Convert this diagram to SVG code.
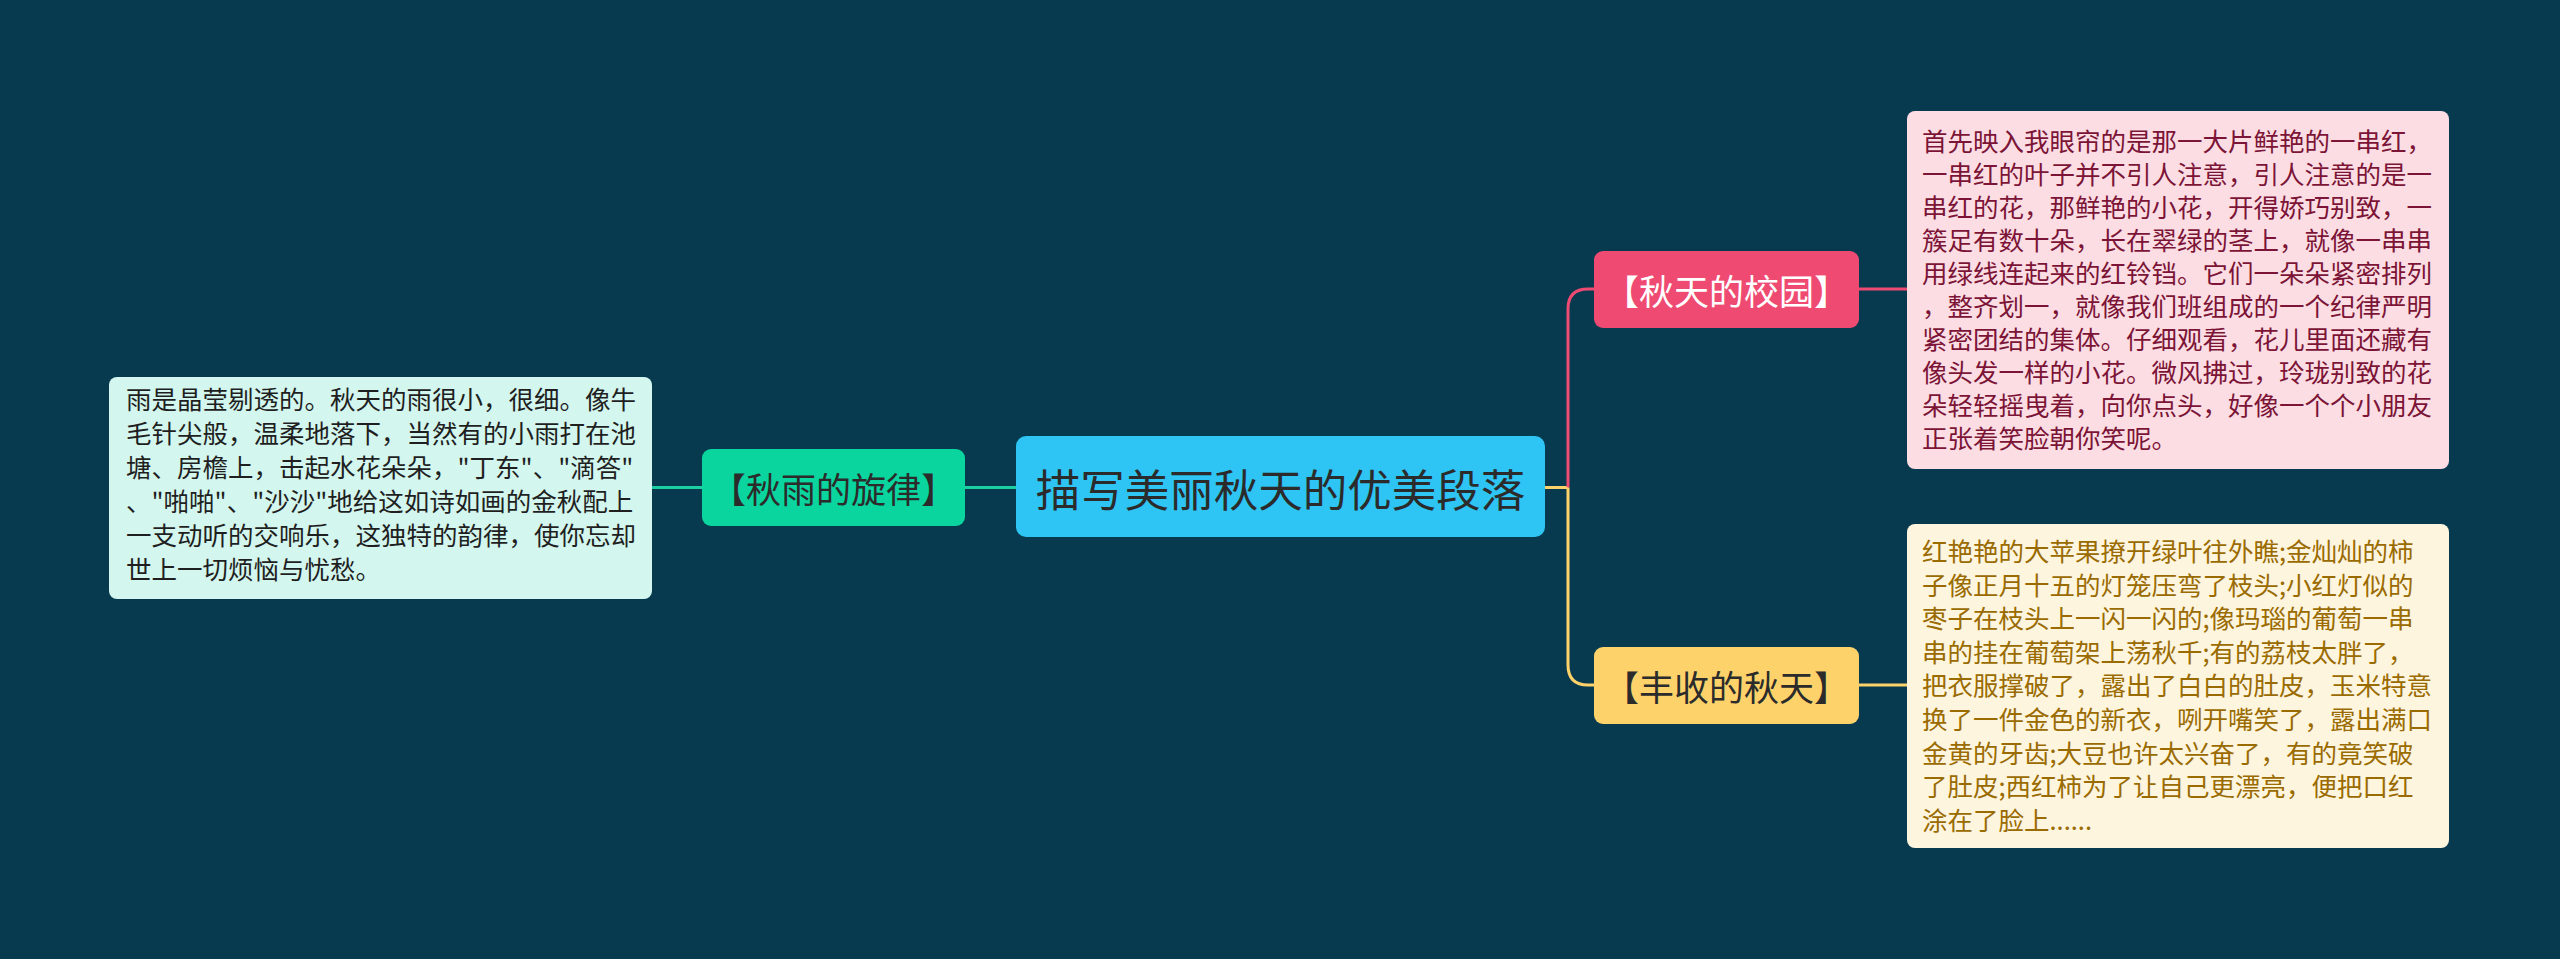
<svg xmlns="http://www.w3.org/2000/svg" width="2560" height="959" viewBox="0 0 2560 959">
<style>
text{font-family:"Noto Sans CJK SC","Noto Sans",sans-serif;}
.lbl{text-anchor:middle;dominant-baseline:central;}
.body{font-size:25.5px;}
.conn{fill:none;stroke-width:3;}
</style>
<rect x="0" y="0" width="2560" height="959" fill="#073A4E"/>
<g id="connectors">
<path class="conn" stroke="#1CCFA3" d="M1016 487.5 H965"/>
<path class="conn" stroke="#1CCFA3" d="M702 487.5 H652"/>
<path class="conn" stroke="#FDD26A" d="M1545 487.5 H1568"/>
<path class="conn" stroke="#EF4A72" d="M1568 487.5 V309 Q1568 289 1588 289 H1594"/>
<path class="conn" stroke="#FDD26A" d="M1568 487.5 V665 Q1568 685 1588 685 H1594"/>
<path class="conn" stroke="#EF4A72" d="M1859 289 H1907"/>
<path class="conn" stroke="#FDD26A" d="M1859 685 H1907"/>
</g>
<g id="center">
<rect x="1016" y="436" width="529" height="101" rx="10" fill="#2EC4F3"/>
<text class="lbl" x="1280.5" y="487" font-size="44.5" fill="#2B2B2B">描写美丽秋天的优美段落</text>
</g>
<g id="node-rain">
<rect x="702" y="449" width="263" height="77" rx="9" fill="#0AD59E"/>
<text class="lbl" x="833.5" y="487.5" font-size="35" fill="#2B2B2B">【秋雨的旋律】</text>
</g>
<g id="box-rain">
<rect x="109" y="377" width="543" height="222" rx="8" fill="#D3F6EE"/>
<text class="body" fill="#1F1F1F">
<tspan x="126" y="409">雨是晶莹剔透的。秋天的雨很小，很细。像牛</tspan>
<tspan x="126" y="443">毛针尖般，温柔地落下，当然有的小雨打在池</tspan>
<tspan x="126" y="477">塘、房檐上，击起水花朵朵，"丁东"、"滴答"</tspan>
<tspan x="126" y="511">、"啪啪"、"沙沙"地给这如诗如画的金秋配上</tspan>
<tspan x="126" y="545">一支动听的交响乐，这独特的韵律，使你忘却</tspan>
<tspan x="126" y="579">世上一切烦恼与忧愁。</tspan>
</text>
</g>
<g id="node-campus">
<rect x="1594" y="251" width="265" height="77" rx="9" fill="#EF4A72"/>
<text class="lbl" x="1726.5" y="289.5" font-size="35" fill="#FFFFFF">【秋天的校园】</text>
</g>
<g id="box-campus">
<rect x="1907" y="111" width="542" height="358" rx="8" fill="#FCDDE4"/>
<text class="body" fill="#7B1436">
<tspan x="1922" y="151">首先映入我眼帘的是那一大片鲜艳的一串红，</tspan>
<tspan x="1922" y="184">一串红的叶子并不引人注意，引人注意的是一</tspan>
<tspan x="1922" y="217">串红的花，那鲜艳的小花，开得娇巧别致，一</tspan>
<tspan x="1922" y="250">簇足有数十朵，长在翠绿的茎上，就像一串串</tspan>
<tspan x="1922" y="283">用绿线连起来的红铃铛。它们一朵朵紧密排列</tspan>
<tspan x="1922" y="316">，整齐划一，就像我们班组成的一个纪律严明</tspan>
<tspan x="1922" y="349">紧密团结的集体。仔细观看，花儿里面还藏有</tspan>
<tspan x="1922" y="382">像头发一样的小花。微风拂过，玲珑别致的花</tspan>
<tspan x="1922" y="415">朵轻轻摇曳着，向你点头，好像一个个小朋友</tspan>
<tspan x="1922" y="448">正张着笑脸朝你笑呢。</tspan>
</text>
</g>
<g id="node-harvest">
<rect x="1594" y="647" width="265" height="77" rx="9" fill="#FDD26A"/>
<text class="lbl" x="1726.5" y="685.5" font-size="35" fill="#2B2B2B">【丰收的秋天】</text>
</g>
<g id="box-harvest">
<rect x="1907" y="524" width="542" height="324" rx="8" fill="#FEF5DF"/>
<text class="body" fill="#9A6B00">
<tspan x="1922" y="561">红艳艳的大苹果撩开绿叶往外瞧;金灿灿的柿</tspan>
<tspan x="1922" y="594.6">子像正月十五的灯笼压弯了枝头;小红灯似的</tspan>
<tspan x="1922" y="628.2">枣子在枝头上一闪一闪的;像玛瑙的葡萄一串</tspan>
<tspan x="1922" y="661.8">串的挂在葡萄架上荡秋千;有的荔枝太胖了，</tspan>
<tspan x="1922" y="695.4">把衣服撑破了，露出了白白的肚皮，玉米特意</tspan>
<tspan x="1922" y="729">换了一件金色的新衣，咧开嘴笑了，露出满口</tspan>
<tspan x="1922" y="762.6">金黄的牙齿;大豆也许太兴奋了，有的竟笑破</tspan>
<tspan x="1922" y="796.2">了肚皮;西红柿为了让自己更漂亮，便把口红</tspan>
<tspan x="1922" y="829.8">涂在了脸上......</tspan>
</text>
</g>
</svg>
